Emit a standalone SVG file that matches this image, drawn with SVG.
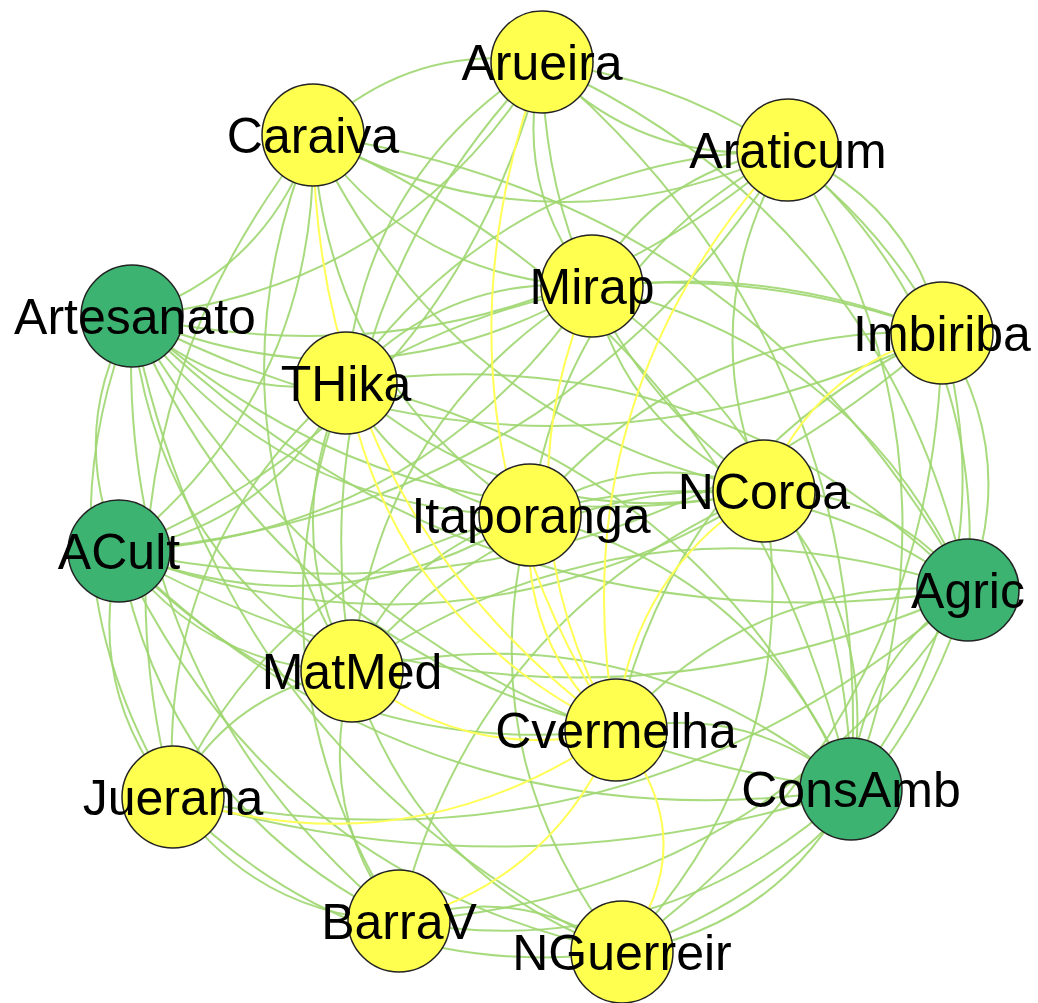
<svg xmlns="http://www.w3.org/2000/svg" width="1038" height="1003" viewBox="0 0 1038 1003">
<style>
.e{fill:none;stroke:#9fd670;stroke-width:2;stroke-opacity:0.9}
.y{fill:none;stroke:#ffff55;stroke-width:2}
.ny{fill:#ffff4f;stroke:#222;stroke-width:1.5}
.ng{fill:#3cb371;stroke:#222;stroke-width:1.5}
.lb{font-family:"Liberation Sans",Arial,sans-serif;font-size:50px;fill:#000;text-anchor:middle}
</style>
<rect width="1038" height="1003" fill="#fff"/>
<g id="edges">
<path class="e" d="M132,316 Q400.5,291.5 542,62"/>
<path class="e" d="M132,316 Q267.75,270.75 313,135"/>
<path class="e" d="M132,316 Q501.5,397 788,150"/>
<path class="e" d="M132,316 Q369.5,416 592,286"/>
<path class="e" d="M132,316 Q532.75,527 942,333"/>
<path class="e" d="M132,316 Q222.25,403 346,383"/>
<path class="e" d="M132,316 Q404.25,561.5 764,491"/>
<path class="e" d="M132,316 Q281.25,515 530,515"/>
<path class="e" d="M132,316 Q66.75,430.25 119,551"/>
<path class="e" d="M132,316 Q481.5,662 968,590"/>
<path class="e" d="M132,316 Q153.25,548.5 352,671"/>
<path class="e" d="M132,316 Q270.5,644 616,730"/>
<path class="e" d="M132,316 Q373.25,732.25 851,789"/>
<path class="e" d="M132,316 Q32.25,566.75 173,797"/>
<path class="e" d="M132,316 Q114.25,685.25 399,921"/>
<path class="e" d="M132,316 Q218,756.5 622,952"/>
<path class="e" d="M119,551 Q452.75,412.25 542,62"/>
<path class="e" d="M119,551 Q320,391.5 313,135"/>
<path class="e" d="M119,551 Q553.75,517.75 788,150"/>
<path class="e" d="M119,551 Q421.75,536.75 592,286"/>
<path class="e" d="M119,551 Q585,647.75 942,333"/>
<path class="e" d="M119,551 Q274.5,523.75 346,383"/>
<path class="e" d="M119,551 Q456.5,682.25 764,491"/>
<path class="e" d="M119,551 Q333.5,635.75 530,515"/>
<path class="e" d="M119,551 Q533.75,782.75 968,590"/>
<path class="e" d="M119,551 Q205.5,669.25 352,671"/>
<path class="e" d="M119,551 Q322.75,764.75 616,730"/>
<path class="e" d="M119,551 Q425.5,853 851,789"/>
<path class="e" d="M119,551 Q84.5,687.5 173,797"/>
<path class="e" d="M119,551 Q166.5,806 399,921"/>
<path class="e" d="M119,551 Q270.25,877.25 622,952"/>
<path class="e" d="M968,590 Q887,219.5 542,62"/>
<path class="e" d="M968,590 Q754.25,198.75 313,135"/>
<path class="e" d="M968,590 Q988,325 788,150"/>
<path class="e" d="M968,590 Q856,344 592,286"/>
<path class="e" d="M968,590 Q1019.25,455 942,333"/>
<path class="e" d="M968,590 Q708.75,331 346,383"/>
<path class="e" d="M968,590 Q890.75,489.5 764,491"/>
<path class="e" d="M968,590 Q767.75,443 530,515"/>
<path class="e" d="M968,590 Q639.75,476.5 352,671"/>
<path class="e" d="M968,590 Q757,572 616,730"/>
<path class="e" d="M968,590 Q859.75,660.25 851,789"/>
<path class="e" d="M173,797 Q622.25,892.25 968,590"/>
<path class="e" d="M399,921 Q766.25,897.75 968,590"/>
<path class="e" d="M622,952 Q885.5,857.5 968,590"/>
<path class="e" d="M851,789 Q878.25,348.25 542,62"/>
<path class="e" d="M851,789 Q745.5,327.5 313,135"/>
<path class="e" d="M851,789 Q979.25,453.75 788,150"/>
<path class="e" d="M851,789 Q847.25,472.75 592,286"/>
<path class="e" d="M851,789 Q1010.5,583.75 942,333"/>
<path class="e" d="M851,789 Q700,459.75 346,383"/>
<path class="e" d="M851,789 Q882,618.25 764,491"/>
<path class="e" d="M851,789 Q759,571.75 530,515"/>
<path class="e" d="M851,789 Q631,605.25 352,671"/>
<path class="e" d="M851,789 Q748.25,700.75 616,730"/>
<path class="e" d="M173,797 Q514,900 851,789"/>
<path class="e" d="M399,921 Q658,968 851,789"/>
<path class="e" d="M622,952 Q777.25,927.75 851,789"/>
<path class="e" d="M542,62 Q409.25,41.25 313,135"/>
<path class="e" d="M542,62 Q643,167.5 788,150"/>
<path class="e" d="M542,62 Q511,186.5 592,286"/>
<path class="e" d="M542,62 Q809.75,97.5 942,333"/>
<path class="e" d="M542,62 Q363.75,173.5 346,383"/>
<path class="e" d="M542,62 Q545.75,332 764,491"/>
<path class="e" d="M542,62 Q294.75,319 352,671"/>
<path class="e" d="M313,135 Q546.75,261.25 788,150"/>
<path class="e" d="M313,135 Q414.75,280.25 592,286"/>
<path class="e" d="M313,135 Q449.5,425.75 764,491"/>
<path class="e" d="M313,135 Q326.5,379.25 530,515"/>
<path class="e" d="M313,135 Q198.5,412.75 352,671"/>
<path class="e" d="M313,135 Q77.5,431 173,797"/>
<path class="e" d="M788,150 Q656,169 592,286"/>
<path class="e" d="M788,150 Q910.75,203 942,333"/>
<path class="e" d="M788,150 Q508.75,156 346,383"/>
<path class="e" d="M788,150 Q690.75,314.5 764,491"/>
<path class="e" d="M788,150 Q567.75,268 530,515"/>
<path class="e" d="M592,286 Q772,269.5 942,333"/>
<path class="e" d="M592,286 Q444.75,273 346,383"/>
<path class="e" d="M592,286 Q626.75,431.5 764,491"/>
<path class="e" d="M592,286 Q375.75,418.5 352,671"/>
<path class="e" d="M942,333 Q631.5,209 346,383"/>
<path class="e" d="M942,333 Q690.5,321 530,515"/>
<path class="e" d="M942,333 Q679.75,450 616,730"/>
<path class="e" d="M942,333 Q936.75,722.5 622,952"/>
<path class="e" d="M346,383 Q528,541.5 764,491"/>
<path class="e" d="M346,383 Q405,495 530,515"/>
<path class="e" d="M346,383 Q277,528.5 352,671"/>
<path class="e" d="M346,383 Q156,546.75 173,797"/>
<path class="e" d="M346,383 Q238,665.25 399,921"/>
<path class="e" d="M764,491 Q641,444.5 530,515"/>
<path class="e" d="M764,491 Q513,478 352,671"/>
<path class="e" d="M764,491 Q474,614.75 399,921"/>
<path class="e" d="M764,491 Q808.25,757 622,952"/>
<path class="e" d="M530,515 Q402,548.5 352,671"/>
<path class="e" d="M530,515 Q281,566.75 173,797"/>
<path class="e" d="M530,515 Q466.75,756.5 622,952"/>
<path class="e" d="M352,671 Q231,689.25 173,797"/>
<path class="e" d="M352,671 Q313,807.75 399,921"/>
<path class="e" d="M352,671 Q416.75,879 622,952"/>
<path class="e" d="M173,797 Q255,915.5 399,921"/>
<path class="e" d="M173,797 Q358.75,986.75 622,952"/>
<path class="e" d="M399,921 Q518.25,880.75 622,952"/>
<path class="y" d="M542,62 Q412,414.5 616,730"/>
<path class="y" d="M313,135 Q315.75,508.25 616,730"/>
<path class="y" d="M346,383 Q394,624 616,730"/>
<path class="y" d="M788,150 Q557,397 616,730"/>
<path class="y" d="M592,286 Q493,514 616,730"/>
<path class="y" d="M942,333 Q813.5,367.5 764,491"/>
<path class="y" d="M764,491 Q630,573.5 616,730"/>
<path class="y" d="M530,515 Q519,644 616,730"/>
<path class="y" d="M352,671 Q469,766.5 616,730"/>
<path class="y" d="M173,797 Q411,874 616,730"/>
<path class="y" d="M399,921 Q555,880 616,730"/>
<path class="y" d="M622,952 Q708,841 616,730"/>
</g>
<g id="Arueira"><circle class="ny" cx="542" cy="62" r="51"/><text class="lb" x="542" y="80">Arueira</text></g>
<g id="Caraiva"><circle class="ny" cx="313" cy="135" r="51"/><text class="lb" x="313" y="153">Caraiva</text></g>
<g id="Araticum"><circle class="ny" cx="788" cy="150" r="51"/><text class="lb" x="788" y="168">Araticum</text></g>
<g id="Artesanato"><circle class="ng" cx="132" cy="316" r="51"/><text class="lb" x="135" y="334">Artesanato</text></g>
<g id="Mirap"><circle class="ny" cx="592" cy="286" r="51"/><text class="lb" x="592" y="304">Mirap</text></g>
<g id="Imbiriba"><circle class="ny" cx="942" cy="333" r="51"/><text class="lb" x="942" y="351">Imbiriba</text></g>
<g id="THika"><circle class="ny" cx="346" cy="383" r="51"/><text class="lb" x="346" y="401">THika</text></g>
<g id="NCoroa"><circle class="ny" cx="764" cy="491" r="51"/><text class="lb" x="764" y="509">NCoroa</text></g>
<g id="Itaporanga"><circle class="ny" cx="530" cy="515" r="51"/><text class="lb" x="531" y="533">Itaporanga</text></g>
<g id="ACult"><circle class="ng" cx="119" cy="551" r="51"/><text class="lb" x="119" y="569">ACult</text></g>
<g id="Agric"><circle class="ng" cx="968" cy="590" r="51"/><text class="lb" x="968" y="608">Agric</text></g>
<g id="MatMed"><circle class="ny" cx="352" cy="671" r="51"/><text class="lb" x="352" y="689">MatMed</text></g>
<g id="Cvermelha"><circle class="ny" cx="616" cy="730" r="51"/><text class="lb" x="616" y="748">Cvermelha</text></g>
<g id="ConsAmb"><circle class="ng" cx="851" cy="789" r="51"/><text class="lb" x="851" y="807">ConsAmb</text></g>
<g id="Juerana"><circle class="ny" cx="173" cy="797" r="51"/><text class="lb" x="173" y="815">Juerana</text></g>
<g id="BarraV"><circle class="ny" cx="399" cy="921" r="51"/><text class="lb" x="399" y="939">BarraV</text></g>
<g id="NGuerreir"><circle class="ny" cx="622" cy="952" r="51"/><text class="lb" x="622" y="970">NGuerreir</text></g>
</svg>
